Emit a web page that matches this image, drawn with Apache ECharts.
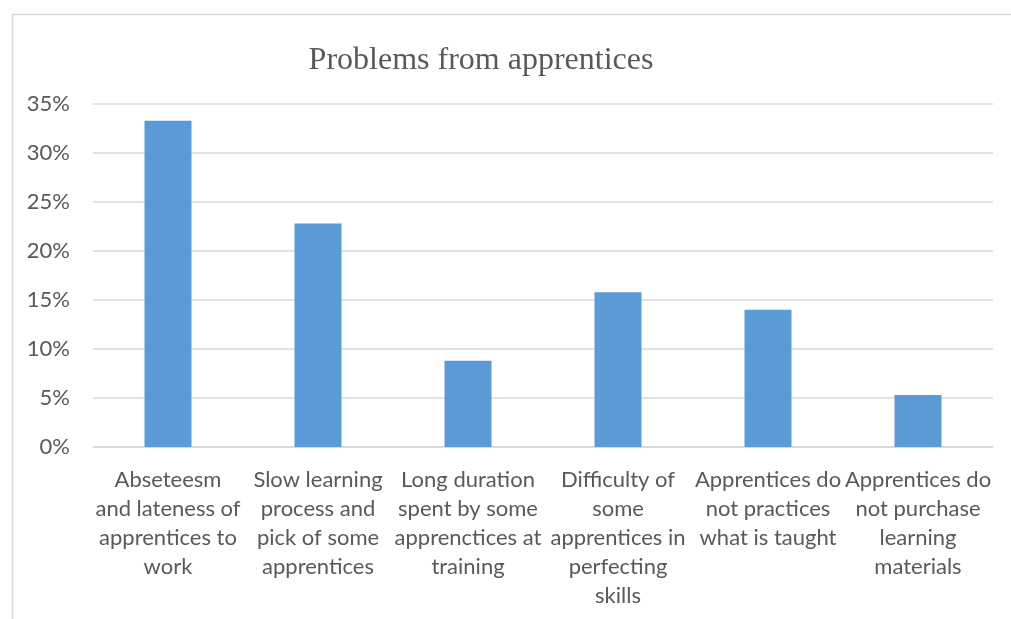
<!DOCTYPE html>
<html>
  <head>
    <meta charset="utf-8" />
    <title>Problems from apprentices</title>
    <script src="https://cdn.jsdelivr.net/npm/echarts@6/dist/echarts.min.js"></script>
    <style>
      html, body { margin: 0; padding: 0; background: #fff; }
    </style>
  </head>
  <body>
    <div id="main" style="width: 1011px; height: 619px"></div>
    <script type="text/javascript">
      // categories and values (percent of respondents)
      var categories = [
        'Abseteesm\nand lateness of\napprentices to\nwork',
        'Slow learning\nprocess and\npick of some\napprentices',
        'Long duration\nspent by some\napprenctices at\ntraining',
        'Difficulty of\nsome\napprentices in\nperfecting\nskills',
        'Apprentices do\nnot practices\nwhat is taught',
        'Apprentices do\nnot purchase\nlearning\nmaterials'
      ];
      var shares = [33.3, 22.8, 8.8, 15.8, 14.0, 5.3];

      var chartDom = document.getElementById('main');
      var myChart = echarts.init(chartDom);
      var option;

      var textColor = '#595959';
      var lineColor = '#d9d9d9';

      option = {
        backgroundColor: '#fff',
        animation: false,
        title: {
          text: 'Problems from apprentices',
          left: 476,
          top: 40,
          textAlign: 'center',
          textStyle: {
            fontFamily: 'Liberation Serif',
            fontSize: 32,
            fontWeight: 'normal',
            color: textColor
          }
        },
        // chart area frame
        graphic: [
          {
            type: 'rect',
            shape: { x: 12.5, y: 14.5, width: 1010, height: 620 },
            style: { fill: 'none', stroke: lineColor, lineWidth: 1.5 },
            silent: true
          }
        ],
        grid: {
          left: 93,
          right: 18,
          top: 104,
          bottom: 172,
          containLabel: false
        },
        xAxis: {
          type: 'category',
          data: categories,
          axisTick: { show: false },
          axisLine: { lineStyle: { color: lineColor, width: 1.5 } },
          axisLabel: {
            interval: 0,
            margin: 18,
            color: textColor,
            fontFamily: 'Lato',
            fontSize: 22,
            lineHeight: 29,
            align: 'center'
          }
        },
        yAxis: {
          type: 'value',
          min: 0,
          max: 35,
          interval: 5,
          axisLine: { show: false },
          axisTick: { show: false },
          splitLine: { lineStyle: { color: lineColor, width: 1.5 } },
          axisLabel: {
            margin: 23,
            color: textColor,
            fontFamily: 'Lato',
            fontSize: 22,
            formatter: '{value}%'
          }
        },
        series: [
          {
            type: 'bar',
            data: shares,
            barWidth: 47,
            itemStyle: { color: '#5b9bd5' }
          }
        ]
      };

      option && myChart.setOption(option);
    </script>
  </body>
</html>
